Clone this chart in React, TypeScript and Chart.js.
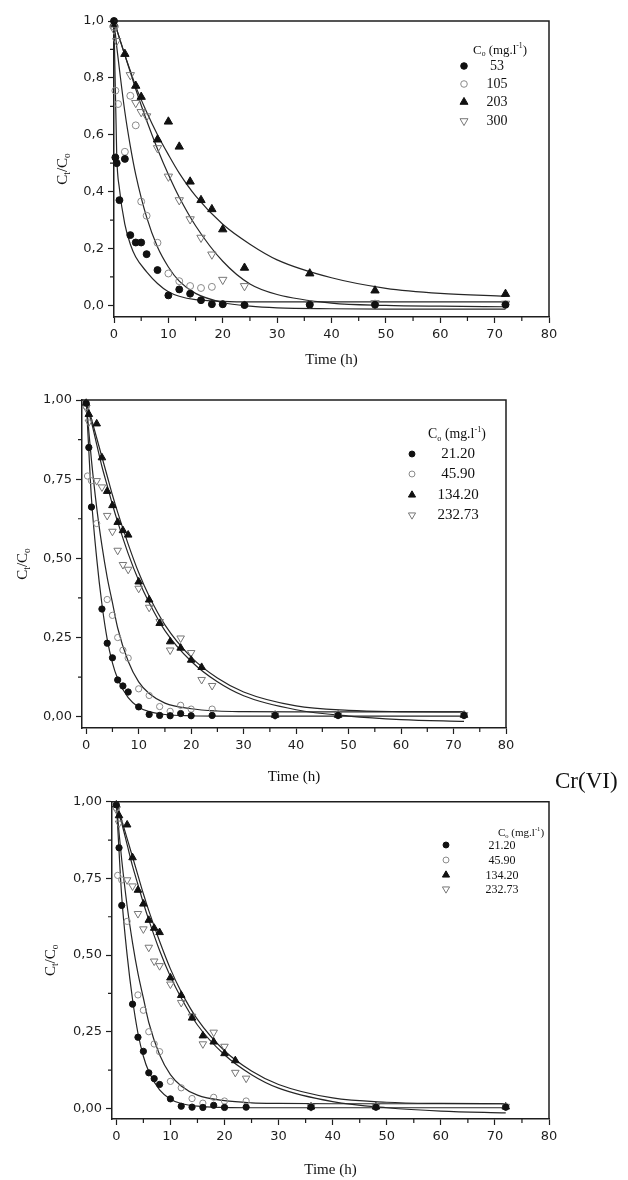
import React, { useEffect, useRef } from "react";
import { Chart, registerables } from "chart.js";

Chart.register(...registerables);

// ================= DATA =================
// ---- Panel 1 ----
const P1_LEGEND = ["53", "105", "203", "300"];
const P1_T_53 = [0, 0.25, 0.5, 1, 2, 3, 4, 5, 6, 8, 10, 12, 14, 16, 18, 20, 24, 36, 48, 72];
const P1_V_53 = [1.0, 0.52, 0.5, 0.37, 0.515, 0.247, 0.221, 0.221, 0.18, 0.124, 0.035, 0.056, 0.041, 0.018, 0.004, 0.004, 0.001, 0.002, 0.002, 0.002];
const P1_T_105 = [0, 0.25, 0.75, 2, 3, 4, 5, 6, 8, 10, 12, 14, 16, 18, 20, 24, 36, 48, 72];
const P1_V_105 = [0.98, 0.755, 0.708, 0.54, 0.737, 0.633, 0.365, 0.315, 0.22, 0.112, 0.085, 0.068, 0.061, 0.065, 0.004, 0.002, 0.003, 0.006, 0.004];
const P1_T_203 = [0, 2, 4, 5, 8, 10, 12, 14, 16, 18, 20, 24, 36, 48, 72];
const P1_V_203 = [0.99, 0.884, 0.772, 0.733, 0.583, 0.646, 0.558, 0.435, 0.37, 0.338, 0.267, 0.132, 0.112, 0.052, 0.04];
const P1_T_300 = [0, 0.5, 3, 4, 5, 6, 8, 10, 12, 14, 16, 18, 20, 24, 36, 48, 72];
const P1_V_300 = [0.97, 0.93, 0.81, 0.712, 0.68, 0.665, 0.553, 0.453, 0.37, 0.303, 0.238, 0.179, 0.09, 0.068, 0.004, 0.008, 0.006];

const P1_CURVE_T = [0, 0.5, 1, 2, 3, 4, 6, 8, 10, 12, 15, 20, 25, 30, 40, 50, 60, 72];
const P1_CURVE_53 = [1, 0.53, 0.41, 0.285, 0.215, 0.17, 0.118, 0.077, 0.048, 0.032, 0.02, 0.014, 0.012, 0.012, 0.012, 0.012, 0.012, 0.012];
const P1_CURVE_105 = [1, 0.91, 0.83, 0.68, 0.56, 0.46, 0.31, 0.205, 0.135, 0.085, 0.042, 0.01, -0.003, -0.009, -0.012, -0.013, -0.013, -0.013];
const P1_CURVE_203 = [1, 0.97, 0.94, 0.88, 0.825, 0.77, 0.68, 0.6, 0.53, 0.465, 0.385, 0.285, 0.215, 0.16, 0.097, 0.06, 0.042, 0.032];
const P1_CURVE_300 = [1, 0.97, 0.94, 0.88, 0.82, 0.76, 0.65, 0.55, 0.46, 0.38, 0.28, 0.155, 0.075, 0.038, 0.008, 0.0, -0.003, -0.005];

const P1_X_TICKS = [0, 10, 20, 30, 40, 50, 60, 70, 80];
const P1_X_MINOR = [5, 15, 25, 35, 45, 55, 65, 75];
const P1_Y_TICKS = [0, 0.2, 0.4, 0.6, 0.8, 1.0];
const P1_Y_LABELS = ["0,0", "0,2", "0,4", "0,6", "0,8", "1,0"];
const P1_Y_MINOR = [0.1, 0.3, 0.5, 0.7, 0.9];

// ---- Panels 2 and 3 (same experiment) ----
const P2_LEGEND = ["21.20", "45.90", "134.20", "232.73"];
const P2_T_21 = [0, 0.5, 1, 3, 4, 5, 6, 7, 8, 10, 12, 14, 16, 18, 20, 24, 36, 48, 72];
const P2_V_21 = [0.99, 0.85, 0.662, 0.34, 0.232, 0.186, 0.116, 0.097, 0.078, 0.031, 0.007, 0.004, 0.003, 0.01, 0.003, 0.004, 0.004, 0.004, 0.004];
const P2_T_45 = [0, 0.25, 1, 2, 4, 5, 6, 7, 8, 10, 12, 14, 16, 18, 20, 24, 36, 48, 72];
const P2_V_45 = [0.98, 0.76, 0.745, 0.61, 0.37, 0.32, 0.25, 0.21, 0.185, 0.088, 0.067, 0.032, 0.017, 0.036, 0.024, 0.024, 0.006, 0.006, 0.006];
const P2_T_134 = [0, 0.5, 2, 3, 4, 5, 6, 7, 8, 10, 12, 14, 16, 18, 20, 22, 36, 48, 72];
const P2_V_134 = [0.99, 0.955, 0.925, 0.818, 0.712, 0.667, 0.614, 0.588, 0.574, 0.426, 0.369, 0.295, 0.237, 0.217, 0.179, 0.156, 0.005, 0.005, 0.005];
const P2_T_232 = [0, 0.5, 2, 3, 4, 5, 6, 7, 8, 10, 12, 14, 16, 18, 20, 22, 24, 36, 48, 72];
const P2_V_232 = [0.975, 0.93, 0.745, 0.725, 0.635, 0.585, 0.525, 0.48, 0.465, 0.405, 0.345, 0.3, 0.21, 0.248, 0.202, 0.117, 0.098, 0.005, 0.006, 0.006];

const P2_CURVE_T = [0, 0.5, 1, 2, 3, 4, 5, 6, 8, 10, 12, 15, 20, 25, 30, 40, 50, 60, 72];
const P2_CURVE_21 = [1, 0.84, 0.69, 0.5, 0.355, 0.245, 0.17, 0.12, 0.06, 0.03, 0.016, 0.007, 0.003, 0.002, 0.002, 0.002, 0.002, 0.002, 0.002];
const P2_CURVE_45 = [1, 0.9, 0.81, 0.66, 0.54, 0.44, 0.36, 0.28, 0.175, 0.11, 0.073, 0.043, 0.025, 0.018, 0.016, 0.015, 0.015, 0.015, 0.015];
const P2_CURVE_134 = [1, 0.97, 0.94, 0.88, 0.82, 0.76, 0.7, 0.645, 0.545, 0.455, 0.38, 0.29, 0.188, 0.122, 0.078, 0.034, 0.02, 0.016, 0.015];
const P2_CURVE_232 = [1, 0.96, 0.93, 0.86, 0.79, 0.73, 0.67, 0.615, 0.515, 0.43, 0.36, 0.272, 0.175, 0.11, 0.066, 0.022, 0.002, -0.009, -0.015];

const P2_X_TICKS = [0, 10, 20, 30, 40, 50, 60, 70, 80];
const P2_X_MINOR = [5, 15, 25, 35, 45, 55, 65, 75];
const P2_Y_TICKS = [0, 0.25, 0.5, 0.75, 1.0];
const P2_Y_LABELS = ["0,00", "0,25", "0,50", "0,75", "1,00"];
const P2_Y_MINOR = [0.125, 0.375, 0.625, 0.875];

const X_TITLE = "Time (h)";
const SIDE_NOTE = "Cr(VI)";

// ================= STYLES / LAYOUT =================
const INK = "#1e1e1e";
const TICK_FAMILY = "'DejaVu Sans', sans-serif";
const SERIF = "'Liberation Serif', 'Times New Roman', serif";

type Marker = { style: string; r: number; fill: string; stroke: string; rot: number };
const MARKERS: Marker[] = [
  { style: "circle", r: 3.3, fill: "#111", stroke: "#111", rot: 0 },
  { style: "circle", r: 3.3, fill: "rgba(0,0,0,0)", stroke: "#8a8a8a", rot: 0 },
  { style: "triangle", r: 4.6, fill: "#111", stroke: "#111", rot: 0 },
  { style: "triangle", r: 4.6, fill: "rgba(0,0,0,0)", stroke: "#777", rot: 180 },
];

type Series = { t: number[]; v: number[] };
type PanelCfg = {
  canvasTop: number;
  canvasH: number;
  area: { left: number; right: number; top: number; bottom: number };
  xRange: [number, number];
  yRange: [number, number];
  xTicks: number[];
  xMinor: number[];
  yTicks: number[];
  yLabels: string[];
  yMinor: number[];
  series: Series[];
  curves: Series[];
  legendLabels: string[];
  legend: { titleX: number; titleY: number; rows: number[]; markerX: number; textX: number; size: number };
  yTitleX: number;
  xTitlePad: number;
  tickSize: number;
  markerScale: number;
};

const PANELS: PanelCfg[] = [
  {
    canvasTop: 0,
    canvasH: 380,
    area: { left: 114, right: 549, top: 21, bottom: 317 },
    xRange: [0, 80],
    yRange: [-0.041, 1.0],
    xTicks: P1_X_TICKS,
    xMinor: P1_X_MINOR,
    yTicks: P1_Y_TICKS,
    yLabels: P1_Y_LABELS,
    yMinor: P1_Y_MINOR,
    series: [
      { t: P1_T_53, v: P1_V_53 },
      { t: P1_T_105, v: P1_V_105 },
      { t: P1_T_203, v: P1_V_203 },
      { t: P1_T_300, v: P1_V_300 },
    ],
    curves: [
      { t: P1_CURVE_T, v: P1_CURVE_53 },
      { t: P1_CURVE_T, v: P1_CURVE_105 },
      { t: P1_CURVE_T, v: P1_CURVE_203 },
      { t: P1_CURVE_T, v: P1_CURVE_300 },
    ],
    legendLabels: P1_LEGEND,
    legend: { titleX: 500, titleY: 49, rows: [66, 84, 102, 121], markerX: 464, textX: 497, size: 14 },
    yTitleX: 62,
    xTitlePad: 11,
    tickSize: 13,
    markerScale: 1.05,
  },
  {
    canvasTop: 380,
    canvasH: 410,
    area: { left: 82, right: 506, top: 400, bottom: 728 },
    xRange: [-0.8, 80],
    yRange: [-0.0357, 1.0],
    xTicks: P2_X_TICKS,
    xMinor: P2_X_MINOR,
    yTicks: P2_Y_TICKS,
    yLabels: P2_Y_LABELS,
    yMinor: P2_Y_MINOR,
    series: [
      { t: P2_T_21, v: P2_V_21 },
      { t: P2_T_45, v: P2_V_45 },
      { t: P2_T_134, v: P2_V_134 },
      { t: P2_T_232, v: P2_V_232 },
    ],
    curves: [
      { t: P2_CURVE_T, v: P2_CURVE_21 },
      { t: P2_CURVE_T, v: P2_CURVE_45 },
      { t: P2_CURVE_T, v: P2_CURVE_134 },
      { t: P2_CURVE_T, v: P2_CURVE_232 },
    ],
    legendLabels: P2_LEGEND,
    legend: { titleX: 457, titleY: 433, rows: [454, 474, 495, 515], markerX: 412, textX: 458, size: 15 },
    yTitleX: 22,
    xTitlePad: 4,
    tickSize: 13,
    markerScale: 0.95,
  },
  {
    canvasTop: 790,
    canvasH: 390,
    area: { left: 112, right: 549, top: 800, bottom: 1119 },
    xRange: [-0.8, 80],
    yRange: [-0.0347, 1.0],
    xTicks: P2_X_TICKS,
    xMinor: P2_X_MINOR,
    yTicks: P2_Y_TICKS,
    yLabels: P2_Y_LABELS,
    yMinor: P2_Y_MINOR,
    series: [
      { t: P2_T_21, v: P2_V_21 },
      { t: P2_T_45, v: P2_V_45 },
      { t: P2_T_134, v: P2_V_134 },
      { t: P2_T_232, v: P2_V_232 },
    ],
    curves: [
      { t: P2_CURVE_T, v: P2_CURVE_21 },
      { t: P2_CURVE_T, v: P2_CURVE_45 },
      { t: P2_CURVE_T, v: P2_CURVE_134 },
      { t: P2_CURVE_T, v: P2_CURVE_232 },
    ],
    legendLabels: P2_LEGEND,
    legend: { titleX: 521, titleY: 832, rows: [845, 860, 875, 889], markerX: 446, textX: 502, size: 12 },
    yTitleX: 50,
    xTitlePad: 1,
    tickSize: 13,
    markerScale: 0.95,
  },
];

// ================= DRAW HELPERS =================
type Part = { text: string; scale: number; dy: number };

function drawRich(ctx: CanvasRenderingContext2D, parts: Part[], x: number, baseline: number, size: number) {
  const widths = parts.map((p) => {
    ctx.font = `${size * p.scale}px ${SERIF}`;
    return ctx.measureText(p.text).width;
  });
  const total = widths.reduce((a, b) => a + b, 0);
  let cx = x - total / 2;
  ctx.textAlign = "left";
  ctx.textBaseline = "alphabetic";
  parts.forEach((p, i) => {
    ctx.font = `${size * p.scale}px ${SERIF}`;
    ctx.fillText(p.text, cx, baseline + p.dy * size);
    cx += widths[i];
  });
}

function drawMarker(ctx: CanvasRenderingContext2D, m: Marker, x: number, y: number, r: number) {
  ctx.beginPath();
  if (m.style === "circle") {
    ctx.arc(x, y, r, 0, Math.PI * 2);
  } else {
    let rad = (m.rot * Math.PI) / 180;
    const step = (2 * Math.PI) / 3;
    ctx.moveTo(x + Math.sin(rad) * r, y - Math.cos(rad) * r);
    rad += step;
    ctx.lineTo(x + Math.sin(rad) * r, y - Math.cos(rad) * r);
    rad += step;
    ctx.lineTo(x + Math.sin(rad) * r, y - Math.cos(rad) * r);
    ctx.closePath();
  }
  ctx.fillStyle = m.fill;
  ctx.fill();
  ctx.lineWidth = 1;
  ctx.strokeStyle = m.stroke;
  ctx.stroke();
}

function decorPlugin(p: PanelCfg) {
  return {
    id: "decor",
    afterDraw(chart: any) {
      const { ctx, chartArea: a, scales } = chart;
      ctx.save();
      // frame top / right
      ctx.strokeStyle = INK;
      ctx.lineWidth = 1.5;
      ctx.beginPath();
      ctx.moveTo(a.left, a.top);
      ctx.lineTo(a.right, a.top);
      ctx.lineTo(a.right, a.bottom);
      ctx.stroke();
      // minor ticks
      ctx.lineWidth = 1.2;
      ctx.beginPath();
      p.xMinor.forEach((v) => {
        const x = scales.x.getPixelForValue(v);
        ctx.moveTo(x, a.bottom);
        ctx.lineTo(x, a.bottom + 4);
      });
      p.yMinor.forEach((v) => {
        const y = scales.y.getPixelForValue(v);
        ctx.moveTo(a.left, y);
        ctx.lineTo(a.left - 4, y);
      });
      ctx.stroke();

      // y title  C_t / C_o (rotated)
      ctx.fillStyle = "#111";
      ctx.save();
      ctx.translate(p.yTitleX, (a.top + a.bottom) / 2);
      ctx.rotate(-Math.PI / 2);
      drawRich(
        ctx,
        [
          { text: "C", scale: 1, dy: 0 },
          { text: "t", scale: 0.62, dy: 0.22 },
          { text: "/C", scale: 1, dy: 0 },
          { text: "o", scale: 0.62, dy: 0.22 },
        ],
        0,
        0.33 * 15,
        15
      );
      ctx.restore();

      // legend
      const L = p.legend;
      const off = p.canvasTop;
      ctx.fillStyle = "#111";
      drawRich(
        ctx,
        [
          { text: "C", scale: 1, dy: 0 },
          { text: "o", scale: 0.6, dy: 0.22 },
          { text: " (mg.l", scale: 1, dy: 0 },
          { text: "-1", scale: 0.6, dy: -0.42 },
          { text: ")", scale: 1, dy: 0 },
        ],
        L.titleX,
        L.titleY - off + 0.33 * L.size,
        L.size * 0.92
      );
      p.legendLabels.forEach((lab, i) => {
        const y = L.rows[i] - off;
        drawMarker(ctx, MARKERS[i], L.markerX, y, MARKERS[i].r * p.markerScale * 0.95);
        ctx.fillStyle = "#111";
        ctx.font = `${L.size}px ${SERIF}`;
        ctx.textAlign = "center";
        ctx.textBaseline = "middle";
        ctx.fillText(lab, L.textX, y + 0.5);
      });
      ctx.restore();
    },
  };
}

function buildConfig(p: PanelCfg): any {
  const datasets: any[] = [];
  p.series.forEach((s, i) => {
    const m = MARKERS[i];
    datasets.push({
      type: "line",
      data: s.t.map((x, j) => ({ x, y: s.v[j] })),
      showLine: false,
      pointStyle: m.style,
      pointRadius: m.r * p.markerScale,
      pointRotation: m.rot,
      pointBackgroundColor: m.fill,
      pointBorderColor: m.stroke,
      pointBorderWidth: 1,
      clip: false,
    });
  });
  p.curves.forEach((c) => {
    datasets.push({
      type: "line",
      data: c.t.map((x, j) => ({ x, y: c.v[j] })),
      showLine: true,
      pointRadius: 0,
      borderColor: "#262626",
      borderWidth: 1.2,
      cubicInterpolationMode: "monotone",
      fill: false,
    });
  });

  const tickFont = { family: TICK_FAMILY, size: p.tickSize };
  return {
    type: "line",
    data: { datasets },
    options: {
      responsive: false,
      animation: false,
      devicePixelRatio: 1,
      events: [],
      layout: {
        padding: { left: 0, right: 628 - p.area.right, top: p.area.top - p.canvasTop, bottom: 0 },
      },
      plugins: { legend: { display: false }, tooltip: { enabled: false } },
      scales: {
        x: {
          type: "linear",
          position: "bottom",
          min: p.xRange[0],
          max: p.xRange[1],
          afterBuildTicks: (s: any) => {
            s.ticks = p.xTicks.map((v) => ({ value: v }));
          },
          afterFit: (s: any) => {
            s.height = p.canvasTop + p.canvasH - p.area.bottom;
          },
          ticks: {
            font: tickFont,
            color: INK,
            padding: 4,
            autoSkip: false,
            maxRotation: 0,
            minRotation: 0,
            callback: (v: number) => String(v),
          },
          grid: { display: true, drawOnChartArea: false, drawTicks: true, tickLength: 6, tickColor: INK, tickWidth: 1.2 },
          border: { display: true, color: INK, width: 1.5 },
          title: {
            display: true,
            text: X_TITLE,
            color: "#111",
            font: { family: SERIF, size: 15 },
            padding: { top: 0, bottom: p.xTitlePad },
          },
        },
        y: {
          type: "linear",
          min: p.yRange[0],
          max: p.yRange[1],
          afterBuildTicks: (s: any) => {
            s.ticks = p.yTicks.map((v) => ({ value: v }));
          },
          afterFit: (s: any) => {
            s.width = p.area.left;
          },
          ticks: {
            font: tickFont,
            color: INK,
            padding: 4,
            autoSkip: false,
            callback: (v: number) => {
              const i = p.yTicks.indexOf(v);
              return i >= 0 ? p.yLabels[i] : "";
            },
          },
          grid: { display: true, drawOnChartArea: false, drawTicks: true, tickLength: 6, tickColor: INK, tickWidth: 1.2 },
          border: { display: true, color: INK, width: 1.5 },
        },
      },
    },
    plugins: [decorPlugin(p)],
  };
}

function PanelChart({ panel }: { panel: PanelCfg }) {
  const ref = useRef<HTMLCanvasElement | null>(null);
  useEffect(() => {
    if (!ref.current) return;
    const chart = new Chart(ref.current, buildConfig(panel));
    return () => chart.destroy();
  }, [panel]);
  return (
    <canvas
      ref={ref}
      width={628}
      height={panel.canvasH}
      style={{ position: "absolute", left: 0, top: panel.canvasTop, width: 628, height: panel.canvasH }}
    />
  );
}

export default function App() {
  return (
    <div style={{ position: "absolute", left: 0, top: 0, width: 628, height: 1180, background: "#fff", overflow: "hidden" }}>
      {PANELS.map((p, i) => (
        <PanelChart key={i} panel={p} />
      ))}
      <div
        style={{
          position: "absolute",
          left: 555,
          top: 768,
          fontFamily: SERIF,
          fontSize: 23,
          lineHeight: "26px",
          color: "#111",
          whiteSpace: "nowrap",
        }}
      >
        {SIDE_NOTE}
      </div>
    </div>
  );
}
